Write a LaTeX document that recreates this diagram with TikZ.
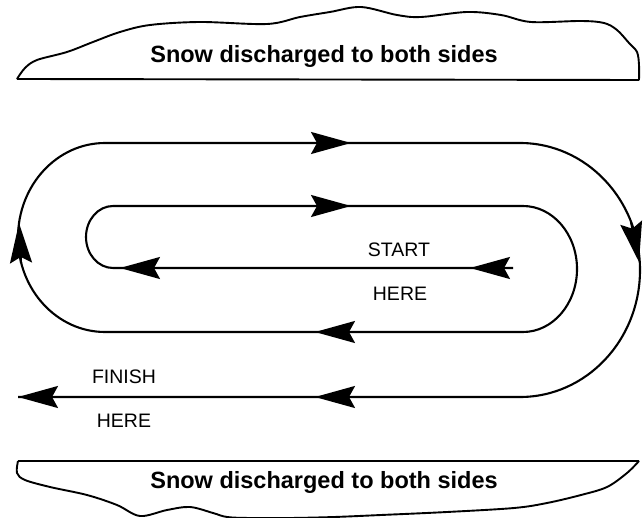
\documentclass[tikz,border=0pt]{standalone}
\usepackage{fontspec}
\setmainfont{Liberation Sans}
\usetikzlibrary{arrows.meta}
\begin{document}
\begin{tikzpicture}[x=1pt,y=-1pt,
  route/.style={line width=2.1pt, line join=round},
  pile/.style={line width=1.9pt, line join=round},
  arr/.style={line width=2.1pt, -{Stealth[length=40pt,width=22pt,inset=6pt]}},
  pilelabel/.style={font=\fontsize{23.5}{28}\selectfont\bfseries, anchor=base, inner sep=0pt},
  smalllabel/.style={font=\fontsize{19.5}{24}\selectfont, anchor=base, inner sep=0pt}]
\useasboundingbox (0,0) rectangle (644,518);
% top snow pile
\draw[pile] (639,80) -- (17,79)
  plot[smooth, tension=0.55] coordinates {(17,79) (25,68) (37,60) (67,52) (93,42) (120,32) (150,25) (200,22) (267,24) (300,17) (330,12) (361,7) (397,15) (421,17) (467,12) (501,15) (531,22) (581,21) (604,23) (617,30) (629,43) (637,52) (639,65) (639,80)};
\node[pilelabel] (toplabel) at (324,63) {Snow discharged to both sides};
% bottom snow pile
\draw[pile] (18,461) -- (639,461)
  plot[smooth, tension=0.55] coordinates {(639,461) (627,473) (607,487) (581,495) (547,503) (514,508) (447,512) (381,515) (334,517) (290,518) (250,518) (227,517) (213,513) (190,507) (167,510) (140,516) (117,505) (87,495) (50,487) (25,480) (17,473) (18,461)};
\node[pilelabel] (botlabel) at (324,488) {Snow discharged to both sides};
% spiral route
\coordinate (start) at (513,268);
\coordinate (finish) at (18,397);
\draw[route] (start) -- (113,268)
  .. controls (98.1,268) and (86,254.1) .. (86,237)
  .. controls (86,219.9) and (98.1,206) .. (113,206)
  -- (523,206)
  .. controls (552.8,206) and (577,234.2) .. (577,269)
  .. controls (577,303.8) and (552.8,332) .. (523,332)
  -- (105,332)
  .. controls (57,332) and (18,289.7) .. (18,237.5)
  .. controls (18,185.3) and (57,143) .. (105,143)
  -- (520,143)
  .. controls (586.3,143) and (640,199.9) .. (640,270)
  .. controls (640,340.1) and (586.3,397) .. (520,397)
  -- (finish);
% arrowheads
\draw[arr] (start) -- (470,268);
\draw[arr] (160,268) -- (120,268);
\draw[arr] (312,206) -- (351,206);
\draw[arr] (356,332) -- (315,332);
\draw[arr] (21,263) -- (19,223);
\draw[arr] (312,143) -- (351,143);
\draw[arr] (631,222) -- (639,262);
\draw[arr] (356,397) -- (315,397);
\draw[arr] (62,397) -- (finish);
% labels
\node[smalllabel] (startlbl) at (399,256) {START};
\node[smalllabel] (here1) at (400,300.5) {HERE};
\node[smalllabel] (finishlbl) at (124,383) {FINISH};
\node[smalllabel] (here2) at (124,427) {HERE};
\end{tikzpicture}
\end{document}
